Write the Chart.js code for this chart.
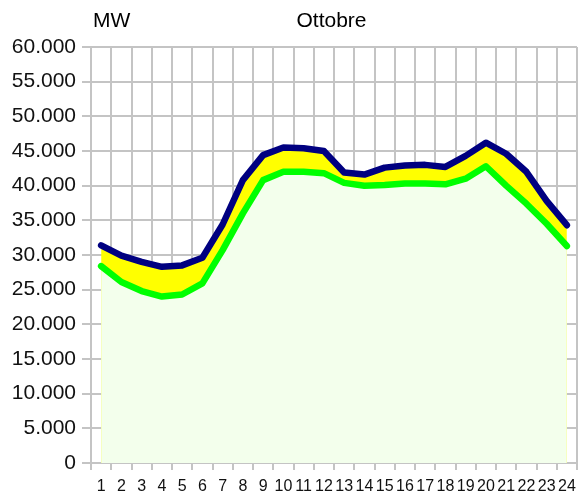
<!DOCTYPE html>
<html>
<head>
<meta charset="utf-8">
<script src="https://cdn.jsdelivr.net/npm/chart.js@4"></script>
<style>
  html, body { margin: 0; padding: 0; background: #fff; }
  #wrap { width: 586px; height: 497px; position: relative; }
</style>
</head>
<body>
<div id="wrap"><canvas id="c" width="586" height="497"></canvas></div>
<script>
const hours = ['1','2','3','4','5','6','7','8','9','10','11','12','13','14','15','16','17','18','19','20','21','22','23','24'];
const upperValues = [31400, 29900, 29000, 28300, 28500, 29600, 34400, 40800, 44400, 45500, 45400, 45000, 41900, 41600, 42600, 42900, 43000, 42700, 44300, 46200, 44600, 42000, 37800, 34300];
const lowerValues = [28400, 26100, 24800, 24000, 24300, 25900, 30700, 36000, 40800, 42000, 42000, 41800, 40400, 40000, 40100, 40300, 40300, 40200, 41000, 42800, 40000, 37400, 34500, 31300];
const unitLabel = 'MW';
const monthLabel = 'Ottobre';
const yMin = 0, yMax = 60000, yStep = 5000;

const FONT = "'Liberation Sans', Arial, sans-serif";

function fmt(v) {
  return String(Math.round(v)).replace(/\B(?=(\d{3})+(?!\d))/g, '.');
}

const titlesPlugin = {
  id: 'titles',
  afterDraw(chart) {
    const ctx = chart.ctx;
    const a = chart.chartArea;
    ctx.save();
    ctx.fillStyle = '#000';
    ctx.font = "21px " + FONT;
    ctx.textBaseline = 'alphabetic';
    ctx.textAlign = 'left';
    ctx.fillText(unitLabel, a.left + 2, 27);
    ctx.textAlign = 'center';
    ctx.fillText(monthLabel, (a.left + a.right) / 2 - 2.5, 27);
    ctx.restore();
  }
};

new Chart(document.getElementById('c'), {
  type: 'line',
  data: {
    labels: hours,
    datasets: [
      {
        label: 'min',
        data: lowerValues,
        borderColor: '#00ff00',
        backgroundColor: '#f3ffec',
        borderWidth: 6.5,
        fill: 'origin',
        tension: 0,
        pointRadius: 0,
        borderCapStyle: 'round',
        borderJoinStyle: 'round'
      },
      {
        label: 'max',
        data: upperValues,
        borderColor: '#000080',
        backgroundColor: '#ffff00',
        borderWidth: 6.5,
        fill: 'origin',
        tension: 0,
        pointRadius: 0,
        borderCapStyle: 'round',
        borderJoinStyle: 'round'
      }
    ]
  },
  options: {
    responsive: false,
    animation: false,
    devicePixelRatio: 1,
    layout: { padding: { left: 0, right: 9, top: 47, bottom: 0 } },
    plugins: {
      legend: { display: false },
      title: { display: false },
      tooltip: { enabled: false },
      filler: { drawTime: 'beforeDatasetsDraw' }
    },
    scales: {
      x: {
        type: 'category',
        offset: true,
        afterFit: (s) => { s.height = 34; },
        grid: {
          offset: true,
          color: '#c4c4c4',
          lineWidth: 2,
          drawTicks: true,
          tickLength: 7
        },
        border: { color: '#c4c4c4', width: 2 },
        ticks: {
          color: '#111',
          font: { family: FONT, size: 16 },
          padding: 7,
          maxRotation: 0,
          autoSkip: false
        }
      },
      y: {
        min: yMin,
        max: yMax,
        afterFit: (s) => { s.width = 91; },
        grid: {
          color: '#c4c4c4',
          lineWidth: 2,
          drawTicks: true,
          tickLength: 9
        },
        border: { color: '#c4c4c4', width: 2 },
        ticks: {
          stepSize: yStep,
          color: '#111',
          font: { family: FONT, size: 21 },
          padding: 6,
          callback: (v) => fmt(v)
        }
      }
    }
  },
  plugins: [titlesPlugin]
});
</script>
</body>
</html>
